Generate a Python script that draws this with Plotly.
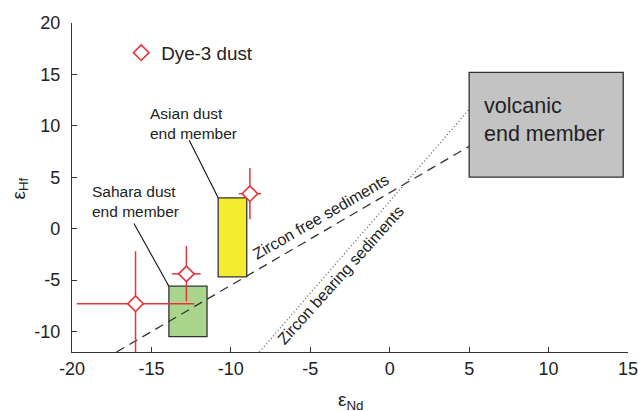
import plotly.graph_objects as go

# Dye-3 dust samples
nd = [-16.0, -12.8, -8.8]
hf = [-7.3, -4.4, 3.4]
nd_err = [3.7, 0.9, 0.7]
hf_err = [5.1, 2.7, 2.5]

# End-member boxes [min, max]
sahara_nd = [-13.9, -11.5]
sahara_hf = [-10.5, -5.6]
asian_nd = [-10.8, -9.0]
asian_hf = [-4.7, 3.0]
volcanic_nd = [5.0, 14.7]
volcanic_hf = [5.0, 15.2]

# Mixing lines
zircon_free_nd = [-17.2, 5.0]
zircon_free_hf = [-12.0, 8.0]
zircon_bearing_nd = [-8.2, 5.0]
zircon_bearing_hf = [-12.0, 11.6]

x_ticks = [-20, -15, -10, -5, 0, 5, 10, 15]
y_ticks = [-10, -5, 0, 5, 10, 15, 20]

FONT = "Liberation Sans, Arial, sans-serif"
RED = "#e8323c"
INK = "#222222"

fig = go.Figure()

fig.add_trace(go.Scatter(
    x=zircon_free_nd, y=zircon_free_hf, mode="lines",
    line=dict(color="#333333", width=1.3, dash="9px,6px"),
    showlegend=False, hoverinfo="skip"))
fig.add_trace(go.Scatter(
    x=zircon_bearing_nd, y=zircon_bearing_hf, mode="lines",
    line=dict(color="#555555", width=1.2, dash="1px,2.5px"),
    showlegend=False, hoverinfo="skip"))

fig.add_trace(go.Scatter(
    x=nd, y=hf, mode="markers", name="Dye-3 dust",
    marker=dict(symbol="diamond", size=12, color="white",
                line=dict(color=RED, width=1.6)),
    error_x=dict(type="data", array=nd_err, color=RED, thickness=1.5, width=0),
    error_y=dict(type="data", array=hf_err, color=RED, thickness=1.5, width=0),
))

shapes = []
for xs, ys, col in [(sahara_nd, sahara_hf, "#a9d68c"),
                    (asian_nd, asian_hf, "#f6ec2f"),
                    (volcanic_nd, volcanic_hf, "#c3c3c3")]:
    shapes.append(dict(type="rect", xref="x", yref="y",
                       x0=xs[0], x1=xs[1], y0=ys[0], y1=ys[1],
                       fillcolor=col, line=dict(color="#333333", width=1.3),
                       layer="below"))
# leader lines
shapes.append(dict(type="line", xref="x", yref="y", x0=-12.62, y0=8.59,
                   x1=asian_nd[0], y1=asian_hf[1],
                   line=dict(color="#111111", width=1.1)))
shapes.append(dict(type="line", xref="x", yref="y", x0=-16.1, y0=0.5,
                   x1=sahara_nd[0], y1=sahara_hf[1],
                   line=dict(color="#111111", width=1.1)))

annotations = [
    dict(x=-15.22, y=10.21, text="Asian dust<br>end member", showarrow=False,
         xanchor="left", yanchor="middle", align="left",
         font=dict(size=15.5, color=INK, family=FONT)),
    dict(x=-18.87, y=2.6, text="Sahara dust<br>end member", showarrow=False,
         xanchor="left", yanchor="middle", align="left",
         font=dict(size=15.5, color=INK, family=FONT)),
    dict(x=5.8, y=10.55, text="volcanic<br>end member", showarrow=False,
         xanchor="left", yanchor="middle", align="left",
         font=dict(size=21.5, color=INK, family=FONT)),
    dict(x=-4.3, y=1.17, text="Zircon free sediments", showarrow=False,
         textangle=-30, xanchor="center", yanchor="middle",
         font=dict(size=16, color=INK, family=FONT)),
    dict(x=-3.05, y=-4.5, text="Zircon bearing sediments", showarrow=False,
         textangle=-48, xanchor="center", yanchor="middle",
         font=dict(size=16, color=INK, family=FONT)),
    # axis titles
    dict(xref="paper", yref="paper", x=0.5, y=0, yshift=-49, text="ε<sub>Nd</sub>",
         showarrow=False, xanchor="center", yanchor="middle",
         font=dict(size=19, color=INK, family=FONT)),
    dict(xref="paper", yref="paper", x=0, y=0.5, xshift=-53, yshift=-1,
         text="ε<sub>Hf</sub>", textangle=-90,
         showarrow=False, xanchor="center", yanchor="middle",
         font=dict(size=19, color=INK, family=FONT)),
]

axis_common = dict(showgrid=False, zeroline=False, showline=True,
                   linecolor="#333333", linewidth=1.3,
                   ticks="inside", ticklen=5, tickwidth=1.2, tickcolor="#333333",
                   tickfont=dict(size=18, color=INK, family=FONT),
                   ticklabeloverflow="allow",
                   mirror=False, automargin=False)

fig.update_layout(
    width=638, height=411,
    margin=dict(l=72, r=9.5, t=22.7, b=58.7),
    paper_bgcolor="white", plot_bgcolor="white",
    font=dict(family=FONT, color=INK),
    shapes=shapes, annotations=annotations,
    showlegend=True,
    legend=dict(x=0.0885, y=0.909, xanchor="left", yanchor="middle",
                bgcolor="rgba(0,0,0,0)", borderwidth=0,
                font=dict(size=18.8, color=INK, family=FONT)),
    xaxis=dict(range=[-20, 15], tickvals=x_ticks,
               ticktext=[str(v) for v in x_ticks],
               ticklabelstandoff=0, **axis_common),
    yaxis=dict(range=[-12, 20], tickvals=y_ticks,
               ticktext=[str(v) for v in y_ticks],
               ticklabelstandoff=7, **axis_common),
)

fig.write_html("out.html", config={"displayModeBar": False},
               post_script="document.body.style.margin='0px';document.body.style.overflow='hidden';")
